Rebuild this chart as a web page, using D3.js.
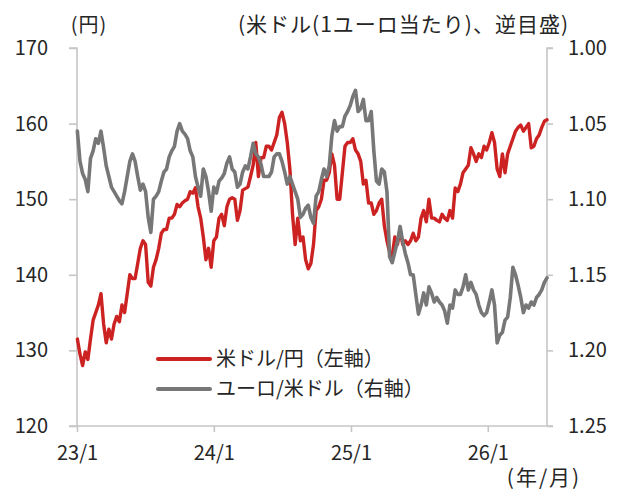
<!DOCTYPE html>
<html>
<head>
<meta charset="utf-8">
<script src="https://cdn.jsdelivr.net/npm/d3@7"></script>
<style>
  html, body { margin: 0; padding: 0; background: #fff; }
  svg text { font-family: "Noto Sans CJK JP", "Noto Sans", sans-serif; fill: #262626; }
</style>
</head>
<body>
<svg id="chart" width="622" height="491"></svg>
<script>
// Weekly observations starting Monday 2023-01-02
const startDate = "2023-01-02";
const endDate = "2026-06-08";

// 米ドル/円 (left axis)
const usdjpy = [
  131.5, 129.5, 128.0, 129.8, 128.8, 131.5, 134.0, 135.0, 136.0, 137.5,
  133.5, 131.0, 132.8, 131.5, 133.5, 134.5, 133.8, 136.0, 135.0, 137.5,
  140.0, 139.5, 139.5, 141.5, 143.5, 144.5, 144.0, 139.0, 138.5, 141.0,
  142.0, 143.5, 145.5, 146.0, 146.0, 147.5, 147.5, 148.0, 149.3, 149.0,
  149.5, 149.8, 150.0, 151.0, 150.8, 151.5, 149.0, 147.5, 145.0, 142.0,
  143.5, 141.0, 144.5, 145.0, 147.5, 148.0, 146.5, 149.0, 150.0, 150.2,
  150.0, 147.2, 148.5, 151.2, 151.4, 151.6, 153.0, 154.5, 157.5, 153.0,
  155.5, 155.5, 157.0, 157.0, 156.5, 157.5, 158.5, 160.8, 161.5, 160.0,
  157.5, 154.0, 148.0, 144.0, 147.5, 144.5, 145.0, 142.0, 140.8, 141.5,
  144.0, 148.5, 149.0, 150.0, 152.5, 152.5, 153.5, 156.0, 154.5, 150.0,
  150.0, 153.5, 157.0, 157.5, 157.5, 158.0, 156.5, 156.0, 155.0, 152.0,
  152.5, 149.5, 149.5, 148.0, 148.5, 149.5, 150.0, 146.5, 144.5, 143.0,
  142.5, 145.0, 144.0, 146.0, 144.0, 144.5, 144.0, 144.5, 145.5, 144.5,
  145.0, 147.5, 148.5, 147.0, 150.0, 147.5, 147.5, 147.2, 147.0, 148.0,
  147.5, 147.2, 148.5, 147.5, 151.5, 151.0, 152.0, 153.5, 154.0, 154.5,
  156.8, 156.0, 155.0, 156.0, 155.5, 157.0, 156.5, 157.5, 158.8, 157.5,
  154.0, 153.0, 156.0, 153.5, 156.0, 157.0, 158.0, 159.0, 159.5, 159.8,
  159.0, 159.5, 160.0, 156.8, 157.0, 158.0, 158.5, 159.5, 160.3, 160.5
];

// ユーロ/米ドル (right axis, reversed)
const eurusd = [
  1.055, 1.075, 1.083, 1.087, 1.095, 1.073, 1.068, 1.060, 1.063, 1.055,
  1.066, 1.078, 1.085, 1.092, 1.095, 1.098, 1.101, 1.103, 1.095, 1.085,
  1.075, 1.070, 1.075, 1.085, 1.094, 1.090, 1.095, 1.112, 1.122, 1.100,
  1.098, 1.095, 1.088, 1.082, 1.080, 1.072, 1.068, 1.065, 1.055, 1.050,
  1.055, 1.057, 1.060, 1.068, 1.072, 1.085, 1.092, 1.098, 1.080, 1.085,
  1.095, 1.108, 1.092, 1.096, 1.088, 1.086, 1.083, 1.076, 1.072, 1.080,
  1.082, 1.092, 1.090, 1.082, 1.078, 1.080, 1.072, 1.063, 1.070, 1.072,
  1.077, 1.085, 1.085, 1.085, 1.082, 1.072, 1.070, 1.070, 1.075, 1.082,
  1.090, 1.085, 1.090, 1.095, 1.100, 1.112, 1.110, 1.106, 1.104, 1.112,
  1.116, 1.098, 1.095, 1.087, 1.080, 1.085, 1.078, 1.058, 1.048, 1.055,
  1.052, 1.052, 1.045, 1.042, 1.038, 1.032, 1.028, 1.042, 1.040, 1.034,
  1.048, 1.048, 1.042, 1.068, 1.088, 1.090, 1.080, 1.082, 1.095, 1.138,
  1.142, 1.135, 1.128, 1.118, 1.128, 1.136, 1.142, 1.150, 1.150, 1.163,
  1.176, 1.170, 1.162, 1.170, 1.158, 1.162, 1.168, 1.165, 1.168, 1.170,
  1.174, 1.182, 1.170, 1.172, 1.160, 1.163, 1.163, 1.158, 1.150, 1.160,
  1.155, 1.160, 1.163, 1.170, 1.175, 1.177, 1.175, 1.168, 1.160, 1.170,
  1.195, 1.190, 1.188, 1.180, 1.178, 1.165, 1.145, 1.150, 1.157, 1.165,
  1.175, 1.170, 1.172, 1.168, 1.170, 1.165, 1.163, 1.160, 1.155, 1.152
];

const leftTicks = [120, 130, 140, 150, 160, 170];
const rightTicks = [1.00, 1.05, 1.10, 1.15, 1.20, 1.25];
const xTickDates = ["2023-01-01", "2024-01-01", "2025-01-01", "2026-01-01"];
const xTickLabels = ["23/1", "24/1", "25/1", "26/1"];
const seriesNames = ["米ドル/円（左軸）", "ユーロ/米ドル（右軸）"];
const seriesColors = ["#cc2222", "#777777"];

const parse = d3.utcParse("%Y-%m-%d");
const dates = d3.utcMonday.range(parse(startDate), d3.utcDay.offset(parse(endDate), 1));

const svg = d3.select("#chart");
const plot = { left: 77, right: 547, top: 48, bottom: 426 };
const axisColor = "#c6c6c6";

const x = d3.scaleUtc()
  .domain([parse("2023-01-01"), parse(endDate)])
  .range([plot.left, plot.right]);
const yL = d3.scaleLinear().domain([120, 170]).range([plot.bottom, plot.top]);
const yR = d3.scaleLinear().domain([1.25, 1.00]).range([plot.bottom, plot.top]);

// Left axis
const gL = svg.append("g").attr("transform", `translate(${plot.left},0)`)
  .call(d3.axisLeft(yL).tickValues(leftTicks).tickSize(8).tickPadding(21).tickFormat(d3.format("d")));
// Right axis
const gR = svg.append("g").attr("transform", `translate(${plot.right},0)`)
  .call(d3.axisRight(yR).tickValues(rightTicks).tickSize(6).tickPadding(15).tickFormat(d3.format(".2f")));
// Bottom axis
const gB = svg.append("g").attr("transform", `translate(0,${plot.bottom})`)
  .call(d3.axisBottom(x).tickValues(xTickDates.map(parse)).tickSize(6).tickPadding(14)
    .tickFormat((d, i) => xTickLabels[i]));

[gL, gR, gB].forEach(g => {
  g.select(".domain").attr("stroke", axisColor).attr("stroke-width", 1.6);
  g.selectAll(".tick line").attr("stroke", axisColor).attr("stroke-width", 1.6);
  g.selectAll(".tick text").attr("font-size", 20).attr("fill", "#262626")
    .style("font-family", '"Noto Sans CJK JP", sans-serif');
});
gL.select(".domain").attr("d", `M-8,${plot.top}H0V${plot.bottom}`);
gR.select(".domain").attr("d", `M6,${plot.top}H0V${plot.bottom}`);
gB.select(".domain").attr("d", `M${plot.left - 8},0H${plot.right + 6}`);

// Series lines
const lineL = d3.line().x((d, i) => x(dates[i])).y(d => yL(d));
const lineR = d3.line().x((d, i) => x(dates[i])).y(d => yR(d));

svg.append("path").datum(usdjpy)
  .attr("d", lineL).attr("fill", "none")
  .attr("stroke", seriesColors[0]).attr("stroke-width", 3.4)
  .attr("stroke-linejoin", "round").attr("stroke-linecap", "round");
svg.append("path").datum(eurusd)
  .attr("d", lineR).attr("fill", "none")
  .attr("stroke", seriesColors[1]).attr("stroke-width", 3.6)
  .attr("stroke-linejoin", "round").attr("stroke-linecap", "round");

// Axis units
svg.append("text").attr("x", 89).attr("y", 32).attr("text-anchor", "middle")
  .attr("font-size", 20).attr("letter-spacing", 1).text("(円)");
svg.append("text").attr("x", 569).attr("y", 32).attr("text-anchor", "end")
  .attr("font-size", 21).attr("letter-spacing", 1).text("(米ドル(1ユーロ当たり)、逆目盛)");
svg.append("text").attr("x", 544).attr("y", 485).attr("text-anchor", "middle")
  .attr("font-size", 21).attr("letter-spacing", 2).text("(年/月)");

// Legend
const legend = svg.append("g");
seriesNames.forEach((name, i) => {
  const ly = 359 + i * 30;
  legend.append("line").attr("x1", 158).attr("x2", 210).attr("y1", ly).attr("y2", ly)
    .attr("stroke", seriesColors[i]).attr("stroke-width", 4).attr("stroke-linecap", "round");
  legend.append("text").attr("x", 216).attr("y", ly + 7).attr("font-size", 20).text(name);
});
</script>
</body>
</html>
